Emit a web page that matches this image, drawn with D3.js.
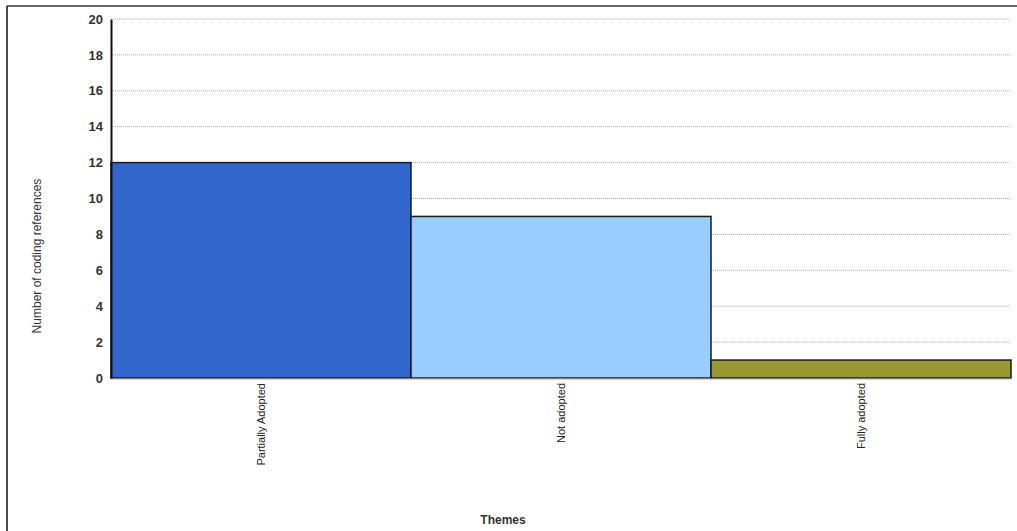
<!DOCTYPE html>
<html><head><meta charset="utf-8">
<script src="https://cdn.jsdelivr.net/npm/d3@7"></script>
<style>body{margin:0;background:#fff}svg{display:block}</style>
</head><body>
<script>
const categories = ["Partially Adopted", "Not adopted", "Fully adopted"];
const values = [12, 9, 1];
const colors = ["#3366cc", "#99ccff", "#999933"];
const yTicks = [0, 2, 4, 6, 8, 10, 12, 14, 16, 18, 20];
const xTitle = "Themes";
const yTitle = "Number of coding references";

const W = 1017, H = 531;
const m = {left: 111, right: 6, top: 19, bottom: 153};
const svg = d3.select("body").append("svg").attr("width", W).attr("height", H);
const font = "'Liberation Sans', Arial, sans-serif";

// frame
svg.append("line").attr("x1", 7).attr("x2", W).attr("y1", 6).attr("y2", 6).attr("stroke", "#333").attr("stroke-width", 1.5);
svg.append("line").attr("x1", 7).attr("x2", 7).attr("y1", 6).attr("y2", H).attr("stroke", "#111").attr("stroke-width", 1.5);

const x = d3.scaleBand().domain(categories).range([m.left, W - m.right]).padding(0);
const y = d3.scaleLinear().domain([0, 20]).range([H - m.bottom, m.top]);

// gridlines
svg.append("g").selectAll("line").data(yTicks.filter(d => d > 0)).join("line")
  .attr("x1", m.left).attr("x2", W - m.right)
  .attr("y1", d => y(d)).attr("y2", d => y(d))
  .attr("stroke", "#aaa").attr("stroke-width", 1).attr("stroke-dasharray", "1,1");

// bars
svg.append("g").selectAll("rect").data(values).join("rect")
  .attr("x", (d, i) => x(categories[i]))
  .attr("width", x.bandwidth())
  .attr("y", d => y(d))
  .attr("height", d => y(0) - y(d))
  .attr("fill", (d, i) => colors[i])
  .attr("stroke", "#1a1a1a").attr("stroke-width", 1.5);

// x axis baseline
svg.append("line").attr("x1", m.left).attr("x2", W - m.right).attr("y1", y(0) + 1).attr("y2", y(0) + 1).attr("stroke", "#aaa");

// y axis
const yAxis = svg.append("g").attr("transform", `translate(${m.left},0)`)
  .call(d3.axisLeft(y).tickValues(yTicks).tickSize(0).tickPadding(8));
yAxis.select(".domain").attr("stroke", "#111").attr("stroke-width", 2);
yAxis.selectAll("text").attr("font-family", font).attr("font-size", 13).attr("font-weight", "bold").attr("fill", "#333");

// x category labels
svg.append("g").selectAll("text").data(categories).join("text")
  .attr("transform", d => `translate(${x(d) + x.bandwidth() / 2 + 4},${y(0) + 5}) rotate(-90)`)
  .attr("text-anchor", "end")
  .attr("font-family", font).attr("font-size", 11).attr("fill", "#222")
  .text(d => d);

// titles
svg.append("text").attr("x", 503).attr("y", 524).attr("text-anchor", "middle")
  .attr("font-family", font).attr("font-size", 12).attr("font-weight", "bold").attr("fill", "#333").text(xTitle);
svg.append("text").attr("transform", "translate(41,256) rotate(-90)").attr("text-anchor", "middle")
  .attr("font-family", font).attr("font-size", 12).attr("fill", "#333").text(yTitle);
</script>
</body></html>
